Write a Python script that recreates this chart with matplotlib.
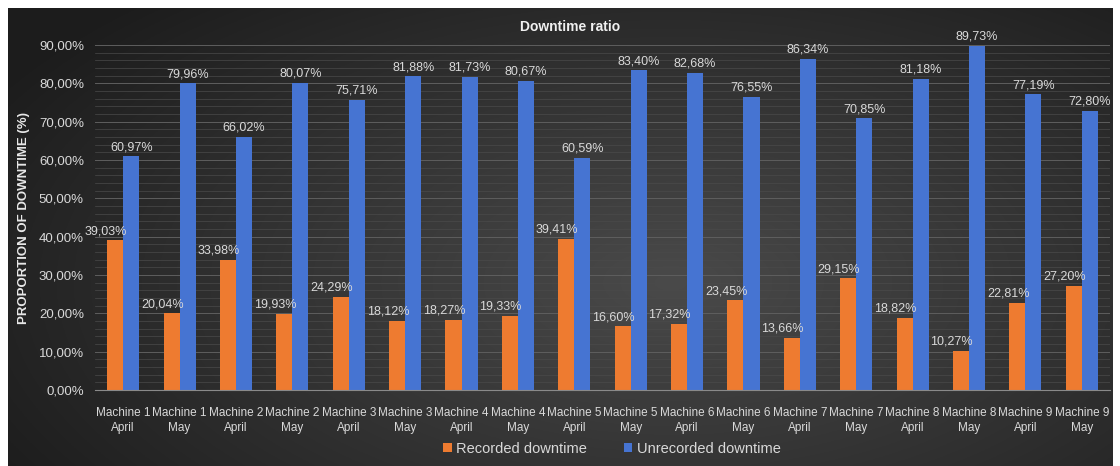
import numpy as np
import matplotlib.pyplot as plt
from matplotlib.ticker import FuncFormatter, MultipleLocator

# Data (fractions)
categories = ["Machine 1\nApril", "Machine 1\nMay", "Machine 2\nApril", "Machine 2\nMay",
              "Machine 3\nApril", "Machine 3\nMay", "Machine 4\nApril", "Machine 4\nMay",
              "Machine 5\nApril", "Machine 5\nMay", "Machine 6\nApril", "Machine 6\nMay",
              "Machine 7\nApril", "Machine 7\nMay", "Machine 8\nApril", "Machine 8\nMay",
              "Machine 9\nApril", "Machine 9\nMay"]
recorded = [0.3903, 0.2004, 0.3398, 0.1993, 0.2429, 0.1812, 0.1827, 0.1933, 0.3941,
            0.1660, 0.1732, 0.2345, 0.1366, 0.2915, 0.1882, 0.1027, 0.2281, 0.2720]
unrecorded = [0.6097, 0.7996, 0.6602, 0.8007, 0.7571, 0.8188, 0.8173, 0.8067, 0.6059,
              0.8340, 0.8268, 0.7655, 0.8634, 0.7085, 0.8118, 0.8973, 0.7719, 0.7280]

ORANGE = '#EE7B30'
BLUE = '#4674D2'
TXT = '#D9D9D9'

plt.rcParams['font.family'] = ['Liberation Sans', 'DejaVu Sans']


def pct(v, pos=None):
    return f"{v * 100:.2f}%".replace('.', ',')


fig = plt.figure(figsize=(11.2, 4.66), dpi=100)
fig.patch.set_facecolor('white')

# dark radial-gradient background (Excel style)
bg = fig.add_axes([8 / 1120, 0, 1105 / 1120, 458 / 466], zorder=-5)
yy, xx = np.mgrid[0:1:300j, 0:1:700j]
r = np.sqrt(((xx - 0.6) / 0.75) ** 2 + ((yy - 0.4) / 0.9) ** 2)
shade = np.clip(0.29 - 0.19 * r, 0.11, 0.29)
bg.imshow(np.dstack([shade] * 3), aspect='auto', extent=[0, 1, 0, 1], origin='lower')
bg.axis('off')

ax = fig.add_axes([95 / 1120, 1 - 390 / 466, 1015 / 1120, 345 / 466])
ax.set_facecolor('none')

x = np.arange(len(categories))
w = 0.285
ax.bar(x - w / 2, recorded, w, color=ORANGE, zorder=3, label='Recorded downtime')
ax.bar(x + w / 2, unrecorded, w, color=BLUE, zorder=3, label='Unrecorded downtime')

for i in range(len(categories)):
    ax.text(x[i] + 0.07, recorded[i] + 0.008, pct(recorded[i]), ha='right', va='bottom',
            color=TXT, fontsize=9, zorder=4)
    ax.text(x[i] + w / 2, unrecorded[i] + 0.008, pct(unrecorded[i]), ha='center', va='bottom',
            color=TXT, fontsize=9, zorder=4)

ax.set_xlim(-0.5, len(categories) - 0.5)
ax.set_ylim(0, 0.9)
ax.yaxis.set_major_locator(MultipleLocator(0.1))
ax.yaxis.set_minor_locator(MultipleLocator(0.02))
ax.yaxis.set_major_formatter(FuncFormatter(pct))
ax.grid(axis='y', which='major', color='#5e5e5e', lw=0.7, zorder=0)
ax.grid(axis='y', which='minor', color='#4a4a4a', lw=0.5, zorder=0)
ax.set_xticks(x)
ax.set_xticklabels(categories, linespacing=1.35)
ax.tick_params(axis='both', which='both', length=0, colors=TXT, labelsize=8.5)
ax.tick_params(axis='x', pad=12)
ax.tick_params(axis='y', pad=8, labelsize=9.5)
for s in ['top', 'right', 'left']:
    ax.spines[s].set_visible(False)
ax.spines['bottom'].set_color('#8a8a8a')
ax.spines['bottom'].set_zorder(5)

ax.set_ylabel('PROPORTION OF DOWNTIME (%)', color='#E8E8E8', fontweight='bold',
              fontsize=9.5, labelpad=6)
fig.text(570 / 1120, 1 - 27 / 466, 'Downtime ratio', ha='center', va='center',
         color='#F0F0F0', fontweight='bold', fontsize=10)

leg = fig.legend(loc='center', bbox_to_anchor=(612 / 1120, 1 - 449 / 466), ncol=2,
                 frameon=False, fontsize=10.5, handlelength=0.6, handleheight=0.6,
                 handletextpad=0.3, columnspacing=2.5)
for t in leg.get_texts():
    t.set_color(TXT)

fig.savefig('out.png', dpi=100)
